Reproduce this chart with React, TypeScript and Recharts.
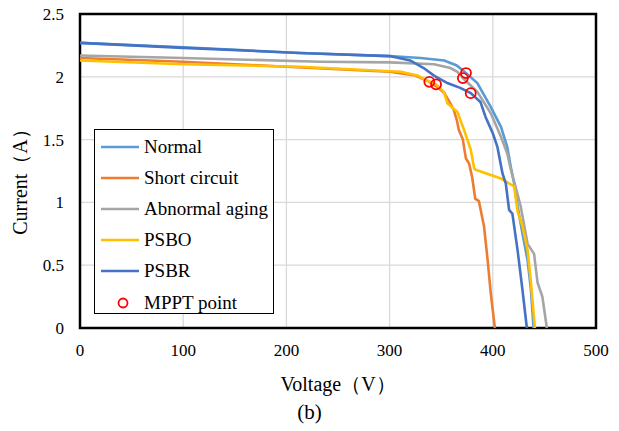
import {
  ComposedChart,
  Line,
  Scatter,
  XAxis,
  YAxis,
  CartesianGrid,
  ReferenceArea,
  Label,
} from "recharts";

// I-V curves: voltage (V) and current (A)
const normalV = [0, 100, 213, 300, 330, 353, 365, 374, 385, 398, 408, 414, 417.5, 420.7, 424, 428.8, 433.7, 437, 439.5];
const normalI = [2.27, 2.235, 2.19, 2.165, 2.15, 2.13, 2.09, 2.03, 1.95, 1.76, 1.6, 1.44, 1.28, 1.15, 0.97, 0.75, 0.54, 0.3, 0];

const shortV = [0, 100, 200, 300, 325, 338.5, 346, 353, 358, 362, 365, 367, 371, 372.5, 374, 377, 380, 383, 386.5, 391.5, 395, 398, 402];
const shortI = [2.15, 2.12, 2.08, 2.04, 2.01, 1.96, 1.92, 1.87, 1.8, 1.74, 1.66, 1.58, 1.5, 1.42, 1.35, 1.31, 1.2, 1.03, 1.01, 0.81, 0.54, 0.28, 0];

const agingV = [0, 100, 233, 300, 343, 359, 365.7, 371, 385, 398, 408, 414, 417.5, 422, 427, 433.7, 440, 443.4, 448, 452.4];
const agingI = [2.17, 2.15, 2.12, 2.115, 2.1, 2.07, 2.04, 1.99, 1.88, 1.71, 1.52, 1.39, 1.26, 1.125, 0.97, 0.67, 0.59, 0.36, 0.25, 0];

const psboV = [0, 100, 213, 311, 327, 336.6, 345, 352.7, 356, 365.7, 372, 378.6, 382, 383.5, 407.8, 420.7, 424, 428.8, 433.7, 437, 440.8];
const psboI = [2.13, 2.1, 2.08, 2.04, 2.01, 1.97, 1.94, 1.88, 1.79, 1.72, 1.58, 1.42, 1.27, 1.26, 1.19, 1.127, 0.93, 0.81, 0.62, 0.36, 0];

const psbrV = [0, 100, 213, 300, 320, 333, 343, 356, 369, 378.6, 388, 393, 400, 404.5, 409.4, 412.6, 415.8, 419, 424, 428.8, 433];
const psbrI = [2.27, 2.23, 2.19, 2.165, 2.13, 2.07, 2.01, 1.95, 1.91, 1.87, 1.8, 1.68, 1.55, 1.44, 1.23, 1.15, 0.94, 0.91, 0.62, 0.3, 0];

const mpptV = [374, 338.5, 371, 345, 378.6];
const mpptI = [2.03, 1.96, 1.99, 1.94, 1.87];

const xTicks = [0, 100, 200, 300, 400, 500];
const yTicks = [0, 0.5, 1, 1.5, 2, 2.5];

const names = ["Normal", "Short circuit", "Abnormal aging", "PSBO", "PSBR"];
const colors = ["#5B9BD5", "#ED7D31", "#A5A5A5", "#FFC000", "#4472C4"];

const toPoints = (v: number[], i: number[]) => v.map((x, k) => ({ v: x, i: i[k] }));

const curves = [
  toPoints(normalV, normalI),
  toPoints(shortV, shortI),
  toPoints(agingV, agingI),
  toPoints(psboV, psboI),
  toPoints(psbrV, psbrI),
];
const mppt = toPoints(mpptV, mpptI);

const font = '"Times New Roman", "Liberation Serif", "DejaVu Serif", serif';

const rowStyle = { display: "flex", alignItems: "center", height: 31.2, whiteSpace: "nowrap" } as const;

function LegendBox() {
  return (
    <div
      style={{
        position: "absolute",
        left: 94,
        top: 129,
        border: "1.5px solid #000",
        background: "#fff",
        width: 180,
        height: 185,
        boxSizing: "border-box",
        padding: "1px 0 0 6px",
        fontFamily: font,
        fontSize: 19,
        color: "#000",
      }}
    >
      {names.map((n, k) => (
        <div key={n} style={rowStyle}>
          <svg width={43} height={10} style={{ flexShrink: 0 }}>
            <line x1={0} y1={5} x2={38} y2={5} stroke={colors[k]} strokeWidth={2.5} />
          </svg>
          <span>{n}</span>
        </div>
      ))}
      <div style={rowStyle}>
        <svg width={43} height={12} style={{ flexShrink: 0 }}>
          <circle cx={22} cy={6} r={4.5} fill="none" stroke="#FF0000" strokeWidth={1.8} />
        </svg>
        <span>MPPT point</span>
      </div>
    </div>
  );
}

export default function App() {
  return (
    <div style={{ position: "relative", width: 619, height: 431, background: "#fff" }}>
      <style>{"body{margin:0}"}</style>
      <ComposedChart width={619} height={431} margin={{ top: 14, right: 23, bottom: 73, left: 20 }}>
        <CartesianGrid stroke="#d9d9d9" strokeWidth={1.3} horizontalValues={yTicks} verticalValues={xTicks} />
        <XAxis
          type="number"
          dataKey="v"
          domain={[0, 500]}
          ticks={xTicks}
          height={30}
          tickLine={false}
          axisLine={false}
          tickMargin={10}
          tick={{ fill: "#000", fontSize: 17, fontFamily: font }}
        >
          <Label
            value="Voltage（V）"
            position="bottom"
            offset={19}
            style={{ fill: "#000", fontSize: 20, fontFamily: font }}
          />
        </XAxis>
        <YAxis
          type="number"
          dataKey="i"
          domain={[0, 2.5]}
          ticks={yTicks}
          width={60}
          tickLine={false}
          axisLine={false}
          tickMargin={10}
          tick={{ fill: "#000", fontSize: 17, fontFamily: font }}
        >
          <Label
            value="Current（A）"
            angle={-90}
            position="insideLeft"
            offset={0}
            dy={6}
            style={{ textAnchor: "middle", fill: "#000", fontSize: 20, fontFamily: font }}
          />
        </YAxis>
        <ReferenceArea x1={0} x2={500} y1={0} y2={2.5} fill="none" stroke="#000" strokeWidth={2.5} />
        {curves.map((d, k) => (
          <Line
            key={names[k]}
            data={d}
            dataKey="i"
            name={names[k]}
            type="linear"
            stroke={colors[k]}
            strokeWidth={2.6}
            dot={false}
            isAnimationActive={false}
          />
        ))}
        <Scatter
          data={mppt}
          dataKey="i"
          name="MPPT point"
          isAnimationActive={false}
          shape={(p: any) => <circle cx={p.cx} cy={p.cy} r={5} fill="none" stroke="#FF0000" strokeWidth={1.8} />}
        />
      </ComposedChart>
      <LegendBox />
      <div
        style={{
          position: "absolute",
          left: 0,
          width: 619,
          top: 400,
          textAlign: "center",
          fontFamily: font,
          fontSize: 21,
          color: "#000",
          paddingLeft: 0,
          boxSizing: "border-box",
        }}
      >
        (b)
      </div>
    </div>
  );
}
